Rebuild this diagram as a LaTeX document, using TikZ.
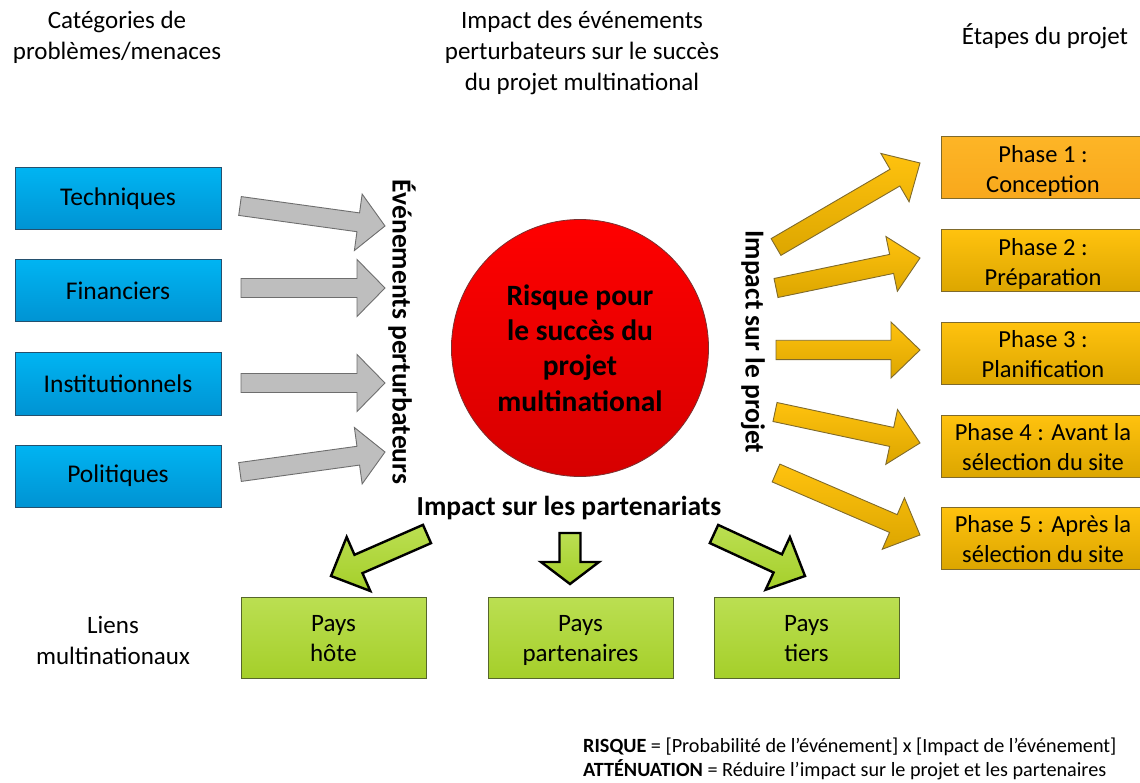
\documentclass[tikz,border=0pt]{standalone}
\usepackage{fontspec}
\setmainfont{Carlito}
\usetikzlibrary{calc}

\definecolor{bluetop}{HTML}{00B4F2}
\definecolor{bluebot}{HTML}{0093D3}
\definecolor{blueedge}{HTML}{24506E}
\definecolor{ortop}{HTML}{FFC20E}
\definecolor{orbot}{HTML}{DCA600}
\definecolor{orfirsttop}{HTML}{FDB526}
\definecolor{orfirstbot}{HTML}{F8A81C}
\definecolor{oredge}{HTML}{7F6A2C}
\definecolor{grtop}{HTML}{BBDF52}
\definecolor{grbot}{HTML}{A5CF2A}
\definecolor{gredge}{HTML}{56662C}
\definecolor{grayfill}{HTML}{BEBEBE}
\definecolor{grayedge}{HTML}{6E6E6E}
\definecolor{redtop}{HTML}{FF0000}
\definecolor{redbot}{HTML}{D60000}
\definecolor{rededge}{HTML}{7A3030}

% block arrow: #1 style, #2 tail, #3 tip, #4 half shaft width,
% #5 half head width, #6 head length
\newcommand\blockarr[6]{%
  \path ($(#3)!#6!(#2)$) coordinate (hb);
  \draw[#1] ($(#2)!#4!90:(#3)$) -- ($(hb)!#4!90:(#3)$) -- ($(hb)!#5!90:(#3)$)
    -- (#3) -- ($(hb)!#5!-90:(#3)$) -- ($(hb)!#4!-90:(#3)$)
    -- ($(#2)!#4!-90:(#3)$) -- cycle;}

% two centred lines with fixed height and depth
\newcommand\twolines[2]{\rule{0pt}{24.5pt}#1\\#2\rule[-6pt]{0pt}{6pt}}

\begin{document}
\begin{tikzpicture}[x=1pt,y=-1pt,
  txt/.style={font=\fontsize{25}{31}\selectfont, align=center, inner sep=0pt},
  boldlbl/.style={font=\fontsize{27.5}{33}\selectfont\bfseries, inner sep=0pt},
  catbox/.style={draw=blueedge, line width=1pt, top color=bluetop, bottom color=bluebot,
    minimum width=206pt, minimum height=62pt, inner sep=0pt,
    font=\fontsize{25.5}{31}\selectfont},
  phasebox/.style={draw=oredge, line width=1pt, top color=ortop, bottom color=orbot,
    minimum width=204pt, minimum height=62pt, inner sep=0pt, align=center,
    font=\fontsize{24.5}{30}\selectfont},
  linkbox/.style={draw=gredge, line width=1pt, top color=grtop, bottom color=grbot,
    minimum width=185pt, minimum height=81pt, inner sep=0pt, align=center,
    font=\fontsize{25}{30}\selectfont},
  grayarr/.style={draw=grayedge, line width=0.9pt, fill=grayfill},
  orarr/.style={draw=oredge, line width=0.9pt, top color=ortop, bottom color=orbot},
  grarr/.style={draw=black, line width=2.4pt, line join=miter, top color=grtop, bottom color=grbot}]

\useasboundingbox (0,0) rectangle (1140,783);

% column headings
\node[txt] (h1) at (117,37) {Catégories de\\problèmes/menaces};
\node[txt] (h2) at (582,53) {Impact des événements\\perturbateurs sur le succès\\du projet multinational};
\node[txt] (h3) at (1045,36) {Étapes du projet};
\node[txt] (h4) at (113,640) {Liens\\multinationaux};

% categories
\node[catbox] (tech) at (118,199) {Techniques};
\node[catbox] (fin)  at (118,291) {Financiers};
\node[catbox] (inst) at (118,384) {Institutionnels};
\node[catbox] (pol)  at (118,476) {Politiques};

% central risk
\node[circle, draw=rededge, line width=0.8pt, top color=redtop, bottom color=redbot,
  minimum size=257pt, inner sep=0pt, align=center,
  font=\fontsize{29.5}{35.3}\selectfont\bfseries] (risk) at (580,348)
  {Risque pour\\le succès du\\projet\\multinational};

\node[boldlbl, rotate=-90] (ev) at (402,332) {Événements perturbateurs};
\node[boldlbl, rotate=-90] (ip) at (753,342) {Impact sur le projet};
\node[boldlbl] (ipart) at (569,508) {Impact sur les partenariats};

% project phases
\node[phasebox, top color=orfirsttop, bottom color=orfirstbot] (p1) at (1043,168) {\twolines{Phase 1 :}{Conception}};
\node[phasebox] (p2) at (1043,261) {\twolines{Phase 2 :}{Préparation}};
\node[phasebox] (p3) at (1043,353.5) {\twolines{Phase 3 :}{Planification}};
\node[phasebox] (p4) at (1043,446) {\twolines{Phase 4 : Avant la}{sélection du site}};
\node[phasebox] (p5) at (1043,538) {\twolines{Phase 5 : Après la}{sélection du site}};

% partner countries
\node[linkbox] (host) at (333.5,637.5) {\twolines{Pays}{hôte}};
\node[linkbox] (part) at (580.5,637.5) {\twolines{Pays}{partenaires}};
\node[linkbox] (third) at (806.5,637.5) {\twolines{Pays}{tiers}};

% arrow end points
\coordinate (g1a) at (240,206); \coordinate (g1b) at (385,226);
\coordinate (g2a) at (241,288); \coordinate (g2b) at (385,288);
\coordinate (g3a) at (241,383); \coordinate (g3b) at (385,383);
\coordinate (g4a) at (240,472); \coordinate (g4b) at (385,452);

\coordinate (o1a) at (776,247); \coordinate (o1b) at (920,163);
\coordinate (o2a) at (776,288); \coordinate (o2b) at (920,258);
\coordinate (o3a) at (776,350); \coordinate (o3b) at (920,350);
\coordinate (o4a) at (775,412); \coordinate (o4b) at (920,443);
\coordinate (o5a) at (776,473); \coordinate (o5b) at (920,535);

\coordinate (l1a) at (427,534); \coordinate (l1b) at (331,576);
\coordinate (l2a) at (570,533); \coordinate (l2b) at (570,584);
\coordinate (l3a) at (714,534); \coordinate (l3b) at (805,576);

% disruptive events
\blockarr{grayarr}{g1a}{g1b}{9.5pt}{28.5pt}{27pt}
\blockarr{grayarr}{g2a}{g2b}{9.5pt}{28.5pt}{28pt}
\blockarr{grayarr}{g3a}{g3b}{9.5pt}{28.5pt}{28pt}
\blockarr{grayarr}{g4a}{g4b}{9.5pt}{28.5pt}{27pt}

% impact on the phases
\blockarr{orarr}{o1a}{o1b}{9.7pt}{28pt}{29pt}
\blockarr{orarr}{o2a}{o2b}{9.7pt}{28pt}{29pt}
\blockarr{orarr}{o3a}{o3b}{9.7pt}{28pt}{29pt}
\blockarr{orarr}{o4a}{o4b}{9.7pt}{28pt}{29pt}
\blockarr{orarr}{o5a}{o5b}{9.7pt}{28pt}{29pt}

% impact on the partnerships
\blockarr{grarr}{l1a}{l1b}{10pt}{29.5pt}{30pt}
\blockarr{grarr}{l2a}{l2b}{10.5pt}{29pt}{22pt}
\blockarr{grarr}{l3a}{l3b}{10pt}{29pt}{30pt}

% definitions
\node[anchor=west, inner sep=0pt, align=left, font=\fontsize{20.2}{24.5}\selectfont] (defs) at (583,759)
  {\textbf{RISQUE} = [Probabilité de l’événement] x [Impact de l’événement]\\
   \textbf{ATTÉNUATION} = Réduire l’impact sur le projet et les partenaires};

\end{tikzpicture}
\end{document}
